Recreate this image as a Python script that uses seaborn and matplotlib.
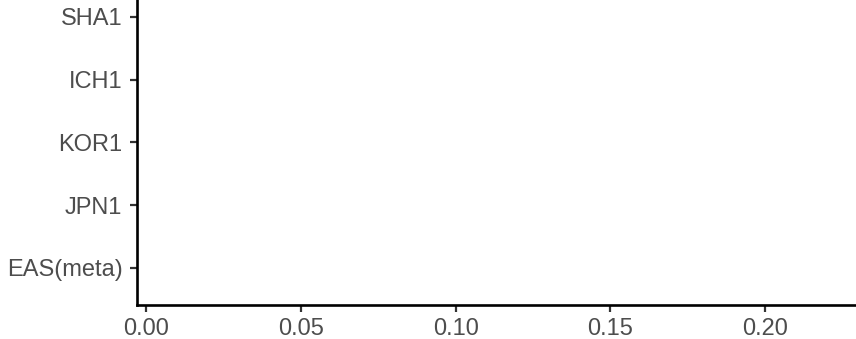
import numpy as np
import pandas as pd
import matplotlib
matplotlib.use('Agg')
import matplotlib.pyplot as plt
import seaborn as sns

# Categories from bottom to top (the panel has no marks drawn)
cohorts = ['EAS(meta)', 'JPN1', 'KOR1', 'ICH1', 'SHA1']
estimates = [np.nan, np.nan, np.nan, np.nan, np.nan]
x_ticks = [0.00, 0.05, 0.10, 0.15, 0.20]
x_tick_labels = ['0.00', '0.05', '0.10', '0.15', '0.20']

df = pd.DataFrame({'cohort': cohorts, 'estimate': estimates})
df['pos'] = range(len(cohorts))

sns.set_theme(style='ticks')
plt.rcParams['font.family'] = ['Liberation Sans', 'DejaVu Sans']

fig = plt.figure(figsize=(8.56, 3.39), dpi=100)
ax = fig.add_axes([0.160, 0.1003, 0.840, 0.8997])

sns.scatterplot(data=df, x='estimate', y='pos', ax=ax, color='black', legend=False)

ax.set_xlim(-0.0029, 0.2293)
ax.set_ylim(-0.59, 4.27)
ax.set_xticks(x_ticks, x_tick_labels)
ax.set_yticks(df['pos'], df['cohort'])
ax.set_xlabel('')
ax.set_ylabel('')

sns.despine(ax=ax)
for side in ['left', 'bottom']:
    ax.spines[side].set_linewidth(1.9)
    ax.spines[side].set_color('black')
ax.tick_params(axis='both', length=5, width=1.6, color='#333333',
               labelsize=17, labelcolor='#4D4D4D')
ax.tick_params(axis='x', pad=4.5)
ax.tick_params(axis='y', pad=5.5)

fig.savefig('out.png', dpi=100)
